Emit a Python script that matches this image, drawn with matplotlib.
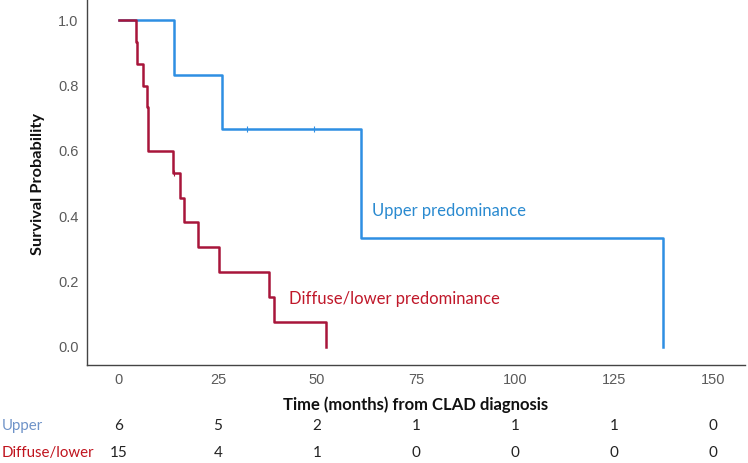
import matplotlib
matplotlib.use("Agg")
import matplotlib.pyplot as plt
import matplotlib.transforms as mtransforms

# Kaplan-Meier steps
upper_times = [0, 14.0, 25.9, 61.1, 137.4]
upper_surv = [1.0, 0.833, 0.667, 0.333, 0.0]
upper_censor_times = [32.2, 49.3]
upper_censor_surv = [0.667, 0.667]

lower_times = [0, 4.3, 4.5, 6.1, 7.0, 7.2, 7.4, 13.6, 15.5, 16.5, 20.0, 25.3, 37.8, 39.1, 52.3]
lower_surv = [1.0, 0.933, 0.867, 0.8, 0.733, 0.667, 0.6, 0.533, 0.457, 0.381, 0.305,
              0.229, 0.152, 0.076, 0.0]
lower_censor_times = [13.8]
lower_censor_surv = [0.533]

# numbers at risk
risk_times = [0, 25, 50, 75, 100, 125, 150]
upper_at_risk = [6, 5, 2, 1, 1, 1, 0]
lower_at_risk = [15, 4, 1, 0, 0, 0, 0]

x_ticks = [0, 25, 50, 75, 100, 125, 150]
y_ticks = [0.0, 0.2, 0.4, 0.6, 0.8, 1.0]

blue = "#2E8FE3"
red = "#A8153A"
text_font = "Lato"

fig = plt.figure(figsize=(7.48, 4.63), dpi=100)
ax = fig.add_axes([87 / 748, 1 - 365 / 463, (745 - 87) / 748, 365 / 463])

ax.step(upper_times, upper_surv, where="post", color=blue, lw=1.8)
ax.step(lower_times, lower_surv, where="post", color=red, lw=1.8)
ax.plot(upper_censor_times, upper_censor_surv, "|", color=blue, ms=5, mew=0.8)
ax.plot(lower_censor_times, lower_censor_surv, "|", color=red, ms=5, mew=0.8)

ax.set_xlim(-8.08, 158.08)
ax.set_ylim(-0.056, 1.062)
ax.set_xticks(x_ticks)
ax.set_yticks(y_ticks)
ax.set_yticklabels([f"{v:.1f}" for v in y_ticks])
ax.tick_params(length=0, labelsize=10.5, labelcolor="#5a5a5a", pad=6)
for lab in ax.get_xticklabels() + ax.get_yticklabels():
    lab.set_family("Liberation Sans")

for side in ["top", "right"]:
    ax.spines[side].set_visible(False)
for side in ["left", "bottom"]:
    ax.spines[side].set_color("#444444")
    ax.spines[side].set_linewidth(1.0)

ax.text(64.0, 0.416, "Upper predominance", color="#2A8AD0", fontsize=12,
        family=text_font, va="center", ha="left")
ax.text(42.9, 0.146, "Diffuse/lower predominance", color="#C0182A", fontsize=12,
        family=text_font, va="center", ha="left")

fig.text(38 / 748, 1 - 184 / 463, "Survival Probability", rotation=90, fontsize=11.8,
         fontweight="bold", family=text_font, ha="center", va="center", color="#111111")

trans = mtransforms.blended_transform_factory(ax.transData, fig.transFigure)
ax.text(75, 1 - 405 / 463, "Time (months) from CLAD diagnosis", transform=trans,
        fontsize=12, fontweight="bold", family=text_font, ha="center", va="center",
        color="#111111", clip_on=False)

fig.text(0.002, 1 - 426 / 463, "Upper", color="#6F93C8", fontsize=10.8,
         family=text_font, ha="left", va="center")
fig.text(0.002, 1 - 453 / 463, "Diffuse/lower", color="#C0141E", fontsize=10.8,
         family=text_font, ha="left", va="center")
for t, u, l in zip(risk_times, upper_at_risk, lower_at_risk):
    ax.text(t, 1 - 426 / 463, str(u), transform=trans, fontsize=11, family=text_font,
            ha="center", va="center", color="#222222", clip_on=False)
    ax.text(t, 1 - 453 / 463, str(l), transform=trans, fontsize=11, family=text_font,
            ha="center", va="center", color="#222222", clip_on=False)

fig.savefig("out.png", dpi=100)
